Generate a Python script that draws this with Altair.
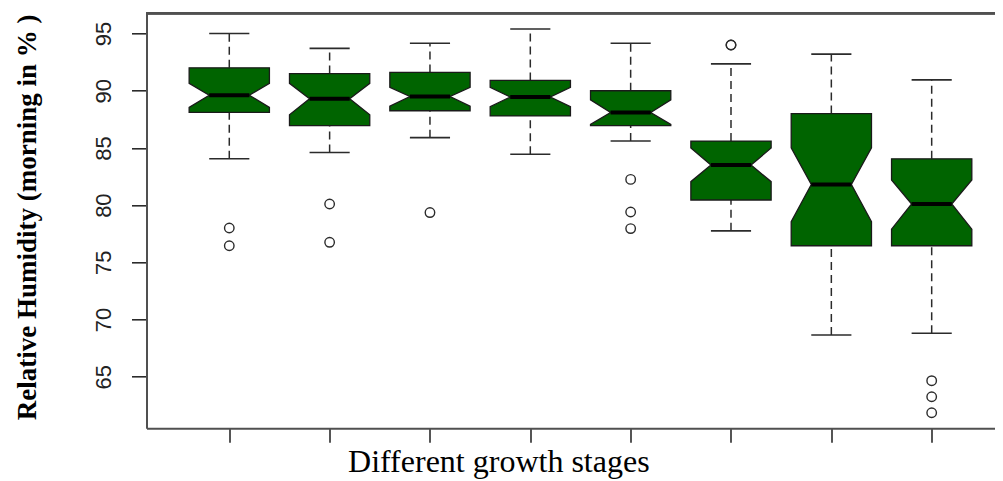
import altair as alt
import pandas as pd

# ---- data ----
stages = [1, 2, 3, 4, 5, 6, 7, 8]
whisker_hi = [95.0, 93.7, 94.15, 95.4, 94.15, 92.35, 93.2, 90.95]
q3 = [92.0, 91.5, 91.6, 90.9, 90.0, 85.6, 88.0, 84.05]
notch_hi = [90.65, 90.65, 90.3, 90.3, 89.2, 85.0, 85.0, 82.2]
median = [89.6, 89.3, 89.5, 89.45, 88.1, 83.5, 81.8, 80.1]
notch_lo = [88.55, 87.9, 88.65, 88.6, 87.05, 82.05, 78.55, 77.9]
q1 = [88.1, 86.95, 88.25, 87.8, 86.95, 80.45, 76.45, 76.45]
whisker_lo = [84.05, 84.6, 85.9, 84.45, 85.6, 77.75, 68.65, 68.8]
outlier_stage = [1, 1, 2, 2, 3, 5, 5, 5, 6, 6, 8, 8, 8]
outlier_value = [78.0, 76.45, 80.1, 76.75, 79.35, 82.25, 79.4, 77.95, 94.0, 94.0, 64.65, 63.25, 61.85]
y_ticks = [65, 70, 75, 80, 85, 90, 95]

# ---- style ----
HALF = 0.4      # half box width (x units)
CAP = 0.2       # half cap / median width
W, H = 848.5, 415
GREEN = "#006400"
LINE = "#2b2b2b"
FRAME = "#505050"

# ---- tables ----
box = pd.DataFrame({
    "stage": stages, "whi": whisker_hi, "q3": q3, "nhi": notch_hi,
    "med": median, "nlo": notch_lo, "q1": q1, "wlo": whisker_lo,
})
box["cl"] = box["stage"] - CAP
box["cr"] = box["stage"] + CAP

rows = []
for s, a, b, c, d, e in zip(stages, q1, notch_lo, median, notch_hi, q3):
    for k, (yv, hw) in enumerate([(a, HALF), (b, HALF), (c, CAP), (d, HALF), (e, HALF)]):
        rows.append({"stage": s, "k": k, "y": yv, "xl": s - hw, "xr": s + hw})
shape = pd.DataFrame(rows)
outl = pd.DataFrame({"stage": outlier_stage, "value": outlier_value})

xs = alt.Scale(domain=[0.175, 8.631], nice=False, zero=False)
ys = alt.Scale(domain=[60.49, 96.77], nice=False, zero=False)

x_axis = alt.Axis(values=stages, labels=False, grid=False, tickSize=14,
                  tickWidth=1.6, tickColor=LINE, domain=True, domainColor=FRAME,
                  domainWidth=2, title="Different growth stages",
                  titleFont="Liberation Serif", titleFontSize=32,
                  titleFontWeight="normal", titleColor="#000000",
                  titleX=351.8, titleY=43.4, titleAlign="center",
                  titleBaseline="alphabetic")
y_axis = alt.Axis(values=y_ticks, grid=False, tickSize=15, tickWidth=1.6,
                  tickColor=LINE, domain=True, domainColor=FRAME, domainWidth=2,
                  labelAngle=270, labelAlign="center", labelBaseline="alphabetic",
                  labelPadding=21, labelFont="Liberation Sans", labelFontSize=22,
                  labelColor="#222222",
                  title="Relative Humidity (morning in % )",
                  titleFont="Liberation Serif", titleFontSize=27,
                  titleFontWeight="bold", titleColor="#000000",
                  titleAngle=270, titleX=-111.5, titleY=203.5,
                  titleAlign="center", titleBaseline="alphabetic")

base_box = alt.Chart(box)

whisk_up = base_box.mark_rule(color=LINE, strokeWidth=1.5, strokeDash=[8, 5]).encode(
    x=alt.X("stage:Q", scale=xs, axis=x_axis),
    y=alt.Y("q3:Q", scale=ys, axis=y_axis), y2="whi:Q")
whisk_dn = base_box.mark_rule(color=LINE, strokeWidth=1.5, strokeDash=[8, 5]).encode(
    x=alt.X("stage:Q", scale=xs, axis=x_axis),
    y=alt.Y("wlo:Q", scale=ys, axis=y_axis), y2="q1:Q")
cap_up = base_box.mark_rule(color=LINE, strokeWidth=1.6).encode(
    x=alt.X("cl:Q", scale=xs, axis=x_axis), x2="cr:Q",
    y=alt.Y("whi:Q", scale=ys, axis=y_axis))
cap_dn = base_box.mark_rule(color=LINE, strokeWidth=1.6).encode(
    x=alt.X("cl:Q", scale=xs, axis=x_axis), x2="cr:Q",
    y=alt.Y("wlo:Q", scale=ys, axis=y_axis))

boxes = alt.Chart(shape).mark_area(
    orient="horizontal", fill=GREEN, stroke="#1a1a1a", strokeWidth=1.3,
    opacity=1, fillOpacity=1).encode(
    y=alt.Y("y:Q", scale=ys, axis=y_axis),
    x=alt.X("xl:Q", scale=xs, axis=x_axis), x2="xr:Q",
    detail="stage:N")

med = base_box.mark_rule(color="#000000", strokeWidth=4).encode(
    x=alt.X("cl:Q", scale=xs, axis=x_axis), x2="cr:Q",
    y=alt.Y("med:Q", scale=ys, axis=y_axis))

pts = alt.Chart(outl).mark_point(shape="circle", filled=False, size=90,
                                 strokeWidth=1.4, color=LINE, opacity=1).encode(
    x=alt.X("stage:Q", scale=xs, axis=x_axis),
    y=alt.Y("value:Q", scale=ys, axis=y_axis))

top = alt.Chart(box).mark_rule(color=FRAME, strokeWidth=2).encode(
    x=alt.value(0), x2=alt.value(W), y=alt.value(0))

chart = alt.layer(whisk_up, whisk_dn, cap_up, cap_dn, boxes, med, pts, top).properties(
    width=W, height=H,
    autosize=alt.AutoSizeParams(type="none"),
    padding={"left": 138.5, "top": 5.3, "right": 0, "bottom": 52.7},
    background="white",
).configure_view(stroke=None)

chart.save("out.html", embed_options={"renderer": "svg", "actions": False})
